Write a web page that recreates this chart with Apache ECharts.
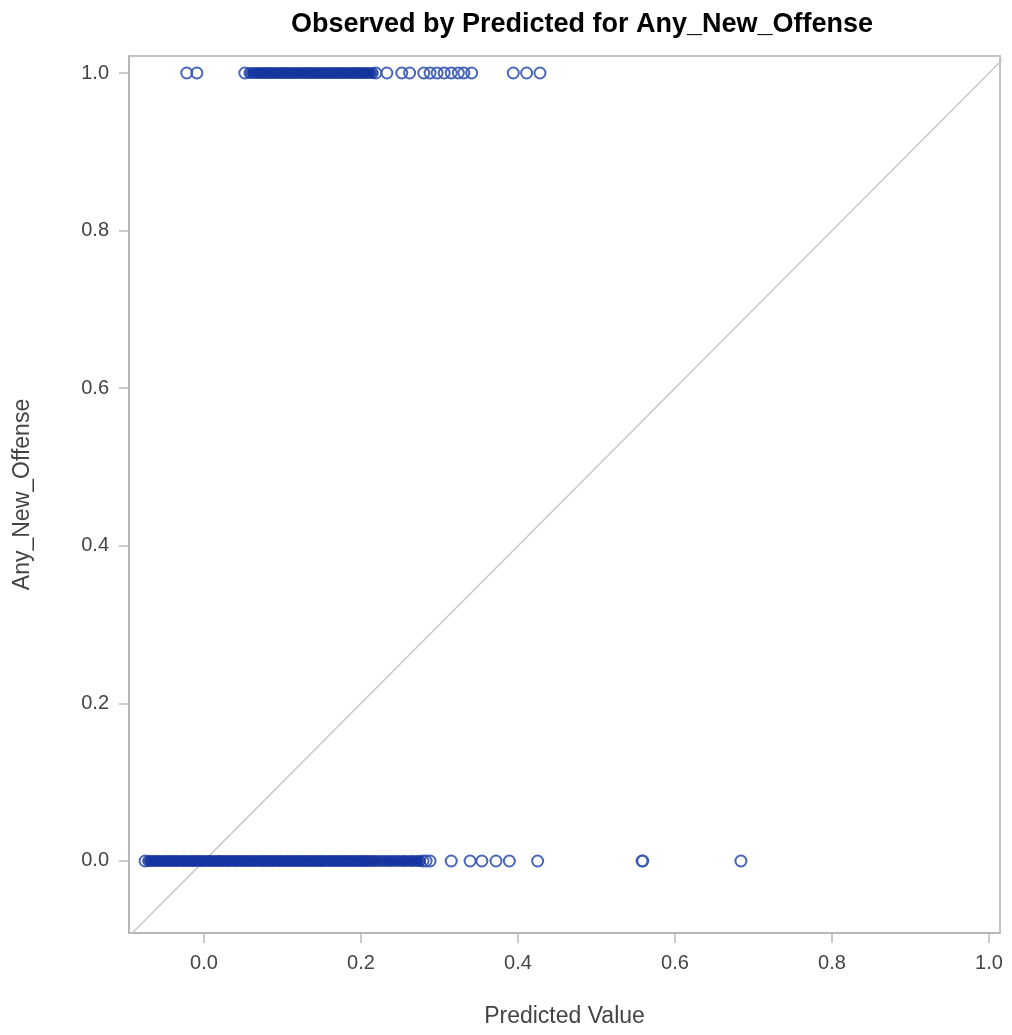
<!DOCTYPE html>
<html>
<head>
<meta charset="utf-8">
<script src="https://cdn.jsdelivr.net/npm/echarts@6/dist/echarts.min.js"></script>
<style>
html,body{margin:0;padding:0;background:#fff;}
#c{width:1012px;height:1035px;}
</style>
</head>
<body>
<div id="c"></div>
<script>
// Observed = 0 : predicted values (overlapping run, drawn as a solid band)
const predictedObs0Dense = [-0.071,-0.068,-0.064,-0.060,-0.057,-0.053,-0.049,-0.046,-0.042,-0.038,-0.035,-0.031,-0.027,-0.024,-0.020,-0.016,-0.013,-0.009,-0.005,-0.002,0.002,0.006,0.009,0.013,0.017,0.020,0.024,0.028,0.031,0.035,0.039,0.042,0.046,0.050,0.053,0.057,0.061,0.064,0.068,0.072,0.075,0.079,0.083,0.086,0.090,0.094,0.097,0.101,0.105,0.108,0.112,0.116,0.119,0.123,0.127,0.130,0.134,0.138,0.141,0.145,0.149,0.152,0.156,0.160,0.163,0.167,0.171,0.174,0.178,0.182,0.185,0.189,0.193,0.196,0.200,0.204,0.207,0.211,0.215,0.219,0.224,0.229,0.234,0.238,0.243,0.248,0.253,0.257,0.262,0.266,0.271,0.275];
// Observed = 0 : separate open circles
const predictedObs0Sparse = [-0.075,0.279,0.283,0.288,0.315,0.339,0.354,0.372,0.389,0.425,0.558,0.559,0.684];
// Observed = 1 : predicted values (overlapping run)
const predictedObs1Dense = [0.058,0.063,0.067,0.071,0.075,0.079,0.083,0.087,0.091,0.095,0.099,0.103,0.107,0.111,0.115,0.119,0.123,0.127,0.131,0.135,0.139,0.143,0.147,0.151,0.155,0.159,0.163,0.167,0.171,0.175,0.179,0.183,0.187,0.191,0.195,0.199,0.203,0.207,0.211,0.215];
// Observed = 1 : separate open circles
const predictedObs1Sparse = [-0.022,-0.009,0.052,0.219,0.233,0.252,0.262,0.280,0.288,0.297,0.306,0.315,0.324,0.331,0.341,0.394,0.411,0.428];
const tickValues = [0.0,0.2,0.4,0.6,0.8,1.0];
const xRange = [-0.0955, 1.014];
const yRange = [-0.0914, 1.0216];

const densePts = [];
predictedObs0Dense.forEach(v => densePts.push([v, 0]));
predictedObs1Dense.forEach(v => densePts.push([v, 1]));
const sparsePts = [];
predictedObs0Sparse.forEach(v => sparsePts.push([v, 0]));
predictedObs1Sparse.forEach(v => sparsePts.push([v, 1]));

const font = '"Liberation Sans", Arial, sans-serif';
const chart = echarts.init(document.getElementById('c'));
chart.setOption({
  animation: false,
  backgroundColor: '#fff',
  title: {
    text: 'Observed by Predicted for Any_New_Offense',
    left: 577, top: 6, textAlign: 'center',
    textStyle: {fontFamily: font, fontWeight: 'bold', fontSize: 27, color: '#000'}
  },
  grid: {left: 129, right: 12, top: 56, bottom: 102, show: true, borderColor: '#c4c4c4', borderWidth: 2},
  xAxis: {
    type: 'value', min: xRange[0], max: xRange[1],
    name: 'Predicted Value', nameLocation: 'middle', nameGap: 72,
    nameTextStyle: {fontFamily: font, fontSize: 23, color: '#444'},
    axisLine: {show: true, onZero: false, lineStyle: {color: '#b8b8b8', width: 2}},
    axisTick: {show: true, length: 10, customValues: tickValues, lineStyle: {color: '#bbb', width: 1.5}},
    axisLabel: {customValues: tickValues, margin: 20, fontFamily: font, fontSize: 20, color: '#444', formatter: v => v.toFixed(1)},
    splitLine: {show: false}
  },
  yAxis: {
    type: 'value', min: yRange[0], max: yRange[1],
    name: 'Any_New_Offense', nameLocation: 'middle', nameGap: 95,
    nameTextStyle: {fontFamily: font, fontSize: 23, color: '#444'},
    axisLine: {show: true, onZero: false, lineStyle: {color: '#b8b8b8', width: 2}},
    axisTick: {show: true, length: 10, customValues: tickValues, lineStyle: {color: '#bbb', width: 1.5}},
    axisLabel: {customValues: tickValues, margin: 20, fontFamily: font, fontSize: 20, color: '#444', formatter: v => v.toFixed(1)},
    splitLine: {show: false}
  },
  series: [
    {
      type: 'line', data: [[-0.2, -0.2], [1.2, 1.2]], clip: true, symbol: 'none',
      lineStyle: {color: '#c8c8c8', width: 1.5}, z: 1, silent: true
    },
    {
      type: 'scatter', data: sparsePts, symbol: 'circle', symbolSize: 11, z: 2,
      itemStyle: {color: 'rgba(0,0,0,0)', borderColor: '#3557b2', borderWidth: 2, opacity: 0.9}
    },
    {
      type: 'scatter', data: densePts, symbol: 'circle', symbolSize: 11, z: 3,
      itemStyle: {color: '#12339e', borderColor: '#1a3aa2', borderWidth: 1}
    }
  ]
});
</script>
</body>
</html>
